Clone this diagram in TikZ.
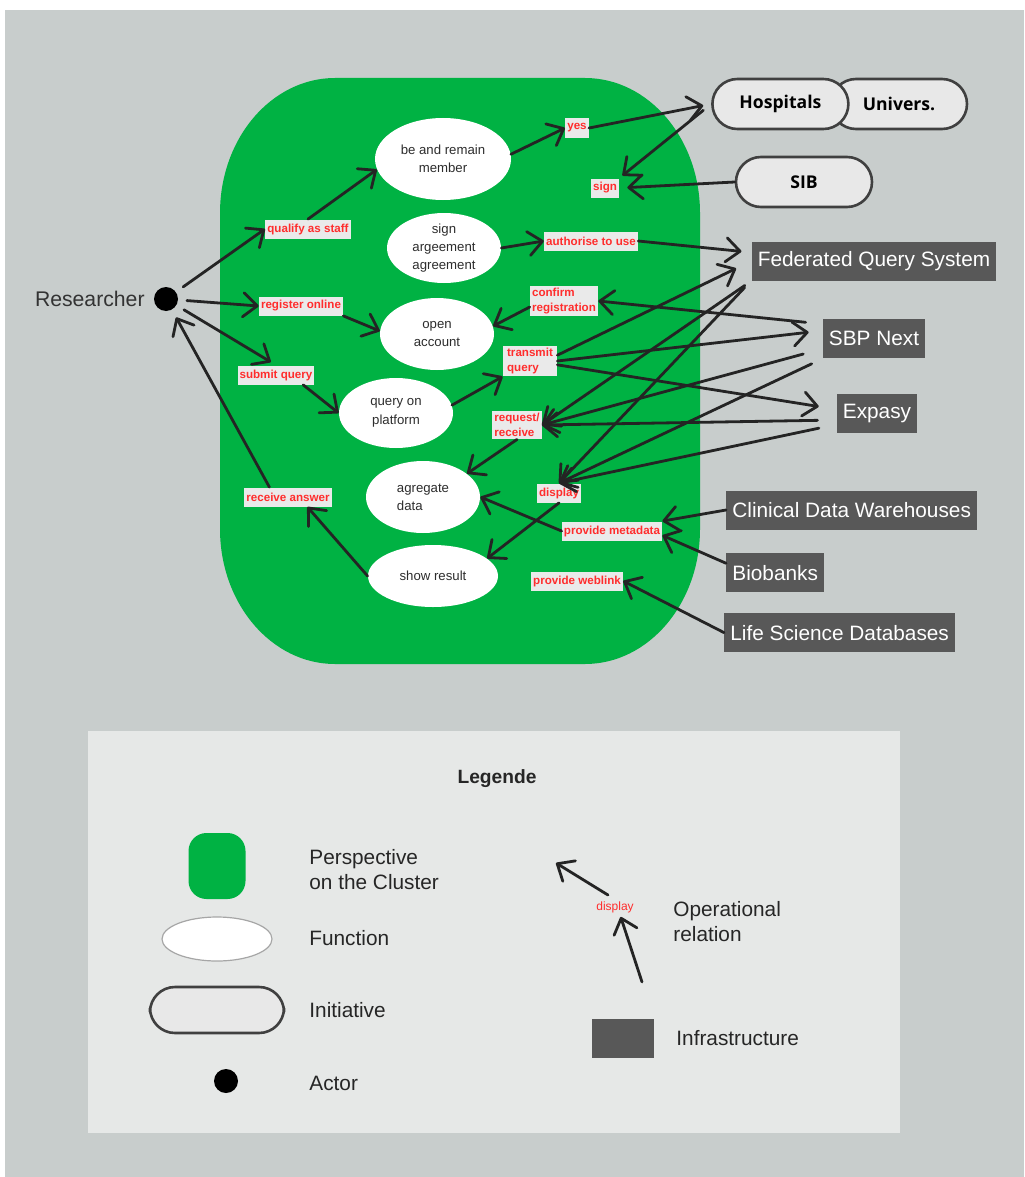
\documentclass[tikz,border=0pt]{standalone}
\usepackage{fontspec}
\setmainfont{Liberation Sans}
\newfontfamily\initfont{Open Sans}
\usetikzlibrary{arrows.meta,positioning,shapes.geometric}
\definecolor{bggray}{RGB}{200,205,204}
\definecolor{clgreen}{RGB}{0,178,67}
\definecolor{lgbox}{RGB}{230,232,231}
\definecolor{infgray}{RGB}{88,88,88}
\definecolor{initfill}{RGB}{232,232,232}
\definecolor{initline}{RGB}{64,64,64}
\definecolor{lblred}{RGB}{255,45,45}
\definecolor{lblfill}{RGB}{234,234,234}
\definecolor{arrgray}{RGB}{36,36,36}
\definecolor{txtgray}{RGB}{45,45,45}
\begin{document}
\begin{tikzpicture}[x=0.5pt,y=-0.5pt,node distance=10pt,fn/.style={ellipse,fill=white,inner sep=0pt,align=center,text=txtgray,font=\fontsize{6.6}{9.2}\selectfont},lbl/.style={fill=lblfill,text=lblred,inner xsep=1pt,inner ysep=1.2pt,minimum height=9.5pt,align=left,font=\bfseries\fontsize{5.8}{7.4}\selectfont},init/.style={draw=initline,line width=1.3pt,fill=initfill,rounded corners=12.5pt,minimum width=68pt,minimum height=25pt,font=\initfont\bfseries\fontsize{8.8}{11}\selectfont},infra/.style={fill=infgray,text=white,minimum height=19.5pt,inner xsep=3pt,font=\fontsize{10.4}{12}\selectfont},actor/.style={circle,fill=black,minimum size=12pt,inner sep=0pt,outer sep=4.5pt},lgtext/.style={anchor=west,align=left,inner xsep=0pt,text=black!85,font=\fontsize{10.4}{12.5}\selectfont},arr/.style={draw=arrgray,line width=1.4pt,line cap=round,-{Straight Barb[length=7pt,width=12pt,round]}}]
\useasboundingbox (0,0) rectangle (1024,1177);
\fill[white] (0,0) rectangle (1024,1177);
\fill[bggray] (5,10) rectangle (1024,1177);
\fill[clgreen] (335,78) -- (585,78) arc[start angle=-90,end angle=0,x radius=115,y radius=135] -- (700,529) arc[start angle=0,end angle=90,x radius=115,y radius=135] -- (335,664) arc[start angle=90,end angle=180,x radius=115,y radius=135] -- (220,213) arc[start angle=180,end angle=270,x radius=115,y radius=135] -- cycle;
\fill[lgbox] (88,731) rectangle (900,1133);
\node[actor] (res) at (166,299) {};
\node[left=0pt of res,inner sep=0pt,text=black!80,font=\fontsize{10.6}{12}\selectfont] (reslbl) {Researcher};
\node[fn,minimum width=68pt,minimum height=41pt] (mem) at (443,159) {be and remain\\member};
\node[fn,minimum width=57pt,minimum height=35pt] (sgn) at (444,248) {sign\\argeement\\agreement};
\node[fn,minimum width=57pt,minimum height=36pt] (acc) at (437,334) {open\\account};
\node[fn,minimum width=57pt,minimum height=35pt] (qry) at (396,413) {query on\\platform};
\node[fn,minimum width=57pt,minimum height=36pt,align=left] (agg) at (423,497) {agregate\\data};
\node[fn,minimum width=65pt,minimum height=31pt] (shw) at (433,576) {show result};
\node[lbl] (lyes) at (577,128) {yes};
\node[lbl] (lsign) at (605,188) {sign};
\node[lbl] (lqual) at (308,229) {qualify as staff};
\node[lbl] (lauth) at (591,241) {authorise to use};
\node[lbl] (lreg) at (301,306) {register online};
\node[lbl] (lconf) at (564,301) {confirm\\registration};
\node[lbl,minimum width=27pt] (ltrans) at (530,361) {transmit\\query};
\node[lbl] (lsub) at (276,375) {submit query};
\node[lbl] (lreq) at (517,425) {request/\\receive};
\node[lbl] (lrecv) at (288,497) {receive answer};
\node[lbl] (ldisp) at (559,493) {display};
\node[lbl] (lmeta) at (612,531) {provide metadata};
\node[lbl] (lweb) at (577,581) {provide weblink};
\node[init] (univ) at (899,104) {Univers.};
\node[init,left=-10pt of univ] (hosp) {Hospitals};
\node[init] (sib) at (804,182) {SIB};
\node[infra] (fqs) at (874,261) {Federated Query System};
\node[infra,below=19pt of fqs] (sbp) {SBP Next};
\node[infra,below=17.5pt of sbp,xshift=1.5pt] (expa) {Expasy};
\node[infra,anchor=west] (cdw) at (726,510) {Clinical Data Warehouses};
\node[infra,below right=11.5pt and 0pt of cdw.south west] (bio) {Biobanks};
\node[infra,below right=10pt and -1pt of bio.south west] (lsd) {Life Science Databases};
\draw[arr] (res) -- (lqual.west);\draw[arr] (lqual.north) -- (mem.189);\draw[arr] (mem.4) -- (lyes.west);
\draw[arr,shorten >=4pt] (lyes.east) -- (hosp.west);\draw[arr,shorten <=5pt,shorten >=2pt] (hosp.west) -- (lsign.north east);\draw[arr,shorten >=4pt] (sib.west) -- (lsign.east);
\draw[arr] (sgn.east) -- (lauth.west);\draw[arr,shorten >=5pt] (lauth.east) -- (fqs.176);
\draw[arr] (res) -- (lreg.west);\draw[arr] (lreg.south east) -- (acc.177);
\draw[arr,shorten <=8.5pt] (sbp.164) -- (lconf.east);\draw[arr] (lconf.190) -- (acc.8);
\draw[arr,shorten >=3pt] (res) -- (lsub.north);\draw[arr] (lsub.-20) -- (qry.west);\draw[arr] (qry.8) -- (ltrans.south west);
\draw[arr,shorten >=8.5pt] (ltrans.12) -- (fqs.west);\draw[arr,shorten >=7pt] (ltrans.east) -- (sbp.171);\draw[arr,shorten >=9pt] (ltrans.-8) -- (expa.174);
\draw[arr,shorten <=4pt] (fqs.south west) -- (lreq.east);\draw[arr,shorten <=10pt] (sbp.191) -- (lreq.east);\draw[arr,shorten <=9.5pt] (expa.189) -- (lreq.east);
\draw[arr,shorten <=5pt] (fqs.189) -- (ldisp.north);\draw[arr,shorten <=6pt] (sbp.south west) -- (ldisp.north);\draw[arr,shorten <=9pt] (expa.195) -- (ldisp.north);
\draw[arr] (lreq.south) -- (agg.28);\draw[arr] (ldisp.south) -- (shw.18);\draw[arr] (lmeta.west) -- (agg.east);
\draw[arr] (cdw.west) -- (lmeta.north east);\draw[arr] (bio.169) -- (lmeta.-5);\draw[arr] (lsd.west) -- (lweb.east);
\draw[arr] (shw.west) -- (lrecv.-27);\draw[arr] (lrecv.152) -- (res);
\node[font=\bfseries\fontsize{9.6}{11}\selectfont,text=black!85] (lgtitle) at (497,779) {Legende};
\node[fill=clgreen,rounded corners=9pt,minimum width=28.5pt,minimum height=33pt] (lgclu) at (217,866) {};
\node[lgtext] (lgclut) at (309,870) {Perspective\\on the Cluster};
\node[ellipse,fill=white,draw=black!35,line width=0.6pt,minimum width=55pt,minimum height=22pt] (lgfun) at (217,939) {};
\node[lgtext] (lgfunt) at (309,938) {Function};
\node[init,minimum width=67pt,minimum height=23pt] (lgini) at (217,1010) {};
\node[lgtext] (lginit) at (309,1010) {Initiative};
\node[actor] (lgact) at (226,1081) {};
\node[lgtext] (lgactt) at (309,1083) {Actor};
\node[lbl,fill=none,font=\fontsize{6}{7}\selectfont] (lgdisp) at (615,907) {display};
\node[lgtext] (lgopt) at (673,922) {Operational\\relation};
\node[fill=infgray,minimum width=31pt,minimum height=19.5pt] (lginf) at (623,1038) {};
\node[lgtext] (lginft) at (676,1038) {Infrastructure};
\coordinate (ophead) at (556,863);
\coordinate (optail) at (642,982);
\draw[arr,shorten <=2pt] (lgdisp.110) -- (ophead);\draw[arr] (optail) -- (lgdisp.-60);
\end{tikzpicture}
\end{document}
